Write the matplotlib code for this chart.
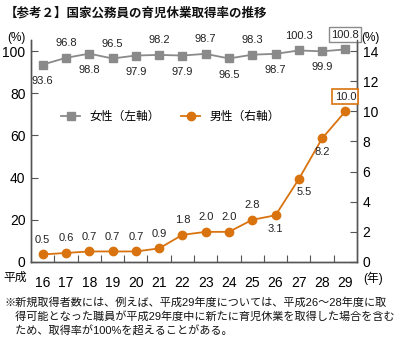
import matplotlib
matplotlib.use("Agg")
import matplotlib.pyplot as plt
from matplotlib.lines import Line2D

plt.rcParams['font.family'] = ['Liberation Sans', 'Noto Sans CJK JP']

years = [16, 17, 18, 19, 20, 21, 22, 23, 24, 25, 26, 27, 28, 29]
female = [93.6, 96.8, 98.8, 96.5, 97.9, 98.2, 97.9, 98.7, 96.5, 98.3, 98.7, 100.3, 99.9, 100.8]
male = [0.5, 0.6, 0.7, 0.7, 0.7, 0.9, 1.8, 2.0, 2.0, 2.8, 3.1, 5.5, 8.2, 10.0]
female_above = [False, True, False, True, False, True, False, True, False, True, False, True, False, True]
male_above = [True] * 10 + [False, False, False, True]

GRAY = "#8a8a8a"
ORANGE = "#d9730f"

fig = plt.figure(figsize=(4.0, 3.46), dpi=100)
ax = fig.add_axes([0.0775, 0.2428, 0.815, 0.6412])
ax2 = ax.twinx()

ax.plot(years, female, "-s", color=GRAY, markersize=5.5, linewidth=1.3, zorder=3)
ax2.plot(years, male, "-o", color=ORANGE, markersize=6, linewidth=1.3, zorder=3)

ax.set_xlim(15.5, 29.5)
ax.set_ylim(0, 105.2)
ax2.set_ylim(0, 105.2 * 0.14)
ax.set_yticks([0, 20, 40, 60, 80, 100])
ax2.set_yticks([0, 2, 4, 6, 8, 10, 12, 14])
ax.set_xticks(years)
ax.set_xticks([y + 0.5 for y in years[:-1]], minor=True)
ax.tick_params(axis="x", which="major", length=0, labelsize=10, pad=10)
ax.tick_params(axis="x", which="minor", direction="in", length=5, width=0.8, color="#555555")
ax.tick_params(axis="y", direction="in", length=5, width=0.8, labelsize=10, color="#555555", pad=4)
ax2.tick_params(axis="y", direction="in", length=5, width=0.8, labelsize=10, color="#555555", pad=4)

for a in (ax, ax2):
    a.spines["top"].set_visible(False)
    for s in ("left", "right", "bottom"):
        a.spines[s].set_color("#555555")
        a.spines[s].set_linewidth(1.0)

# data labels
for x, v, up in zip(years, female, female_above):
    box = None
    if x == 29:
        box = dict(boxstyle="square,pad=0.2", fc="white", ec=GRAY, lw=1.0)
    ax.annotate(f"{v:.1f}", (x, v), xytext=(0, 7 if up else -8), textcoords="offset points",
                ha="center", va="bottom" if up else "top", fontsize=8, color="#222222", bbox=box)

for x, v, up in zip(years, male, male_above):
    box = None
    dx = 0
    if x == 29:
        box = dict(boxstyle="square,pad=0.2", fc="white", ec=ORANGE, lw=1.2)
    if x == 27:
        dx = 4
    ax2.annotate(f"{v:.1f}", (x, v), xytext=(dx, 7 if up else -6), textcoords="offset points",
                 ha="center", va="bottom" if up else "top", fontsize=8, color="#222222",
                 bbox=box)

handles = [
    Line2D([], [], color=GRAY, marker="s", markersize=5.5, linewidth=1.3),
    Line2D([], [], color=ORANGE, marker="o", markersize=6, linewidth=1.3),
]
ax.legend(handles, ["女性（左軸）", "男性（右軸）"], ncol=2, frameon=False, fontsize=8.5,
          loc="center left", bbox_to_anchor=(0.06, 0.655), handlelength=1.6, columnspacing=1.8,
          handletextpad=0.8)

fig.text(0.012, 0.962, "【参考２】国家公務員の育児休業取得率の推移", fontsize=9, fontweight="bold",
         ha="left", va="center", color="#111111")
fig.text(0.04, 0.89, "(%)", fontsize=8.5, ha="center", va="center")
fig.text(0.925, 0.89, "(%)", fontsize=8.5, ha="center", va="center")
fig.text(0.037, 0.197, "平成", fontsize=8.5, ha="center", va="center")
fig.text(0.932, 0.197, "(年)", fontsize=8.5, ha="center", va="center")

note = ("※新規取得者数には、例えば、平成29年度については、平成26～28年度に取\n"
        "　得可能となった職員が平成29年度中に新たに育児休業を取得した場合を含む\n"
        "　ため、取得率が100%を超えることがある。")
fig.text(0.01, 0.14, note, fontsize=8.0, ha="left", va="top", linespacing=1.35, color="#111111")

fig.savefig("out.png", dpi=100)
